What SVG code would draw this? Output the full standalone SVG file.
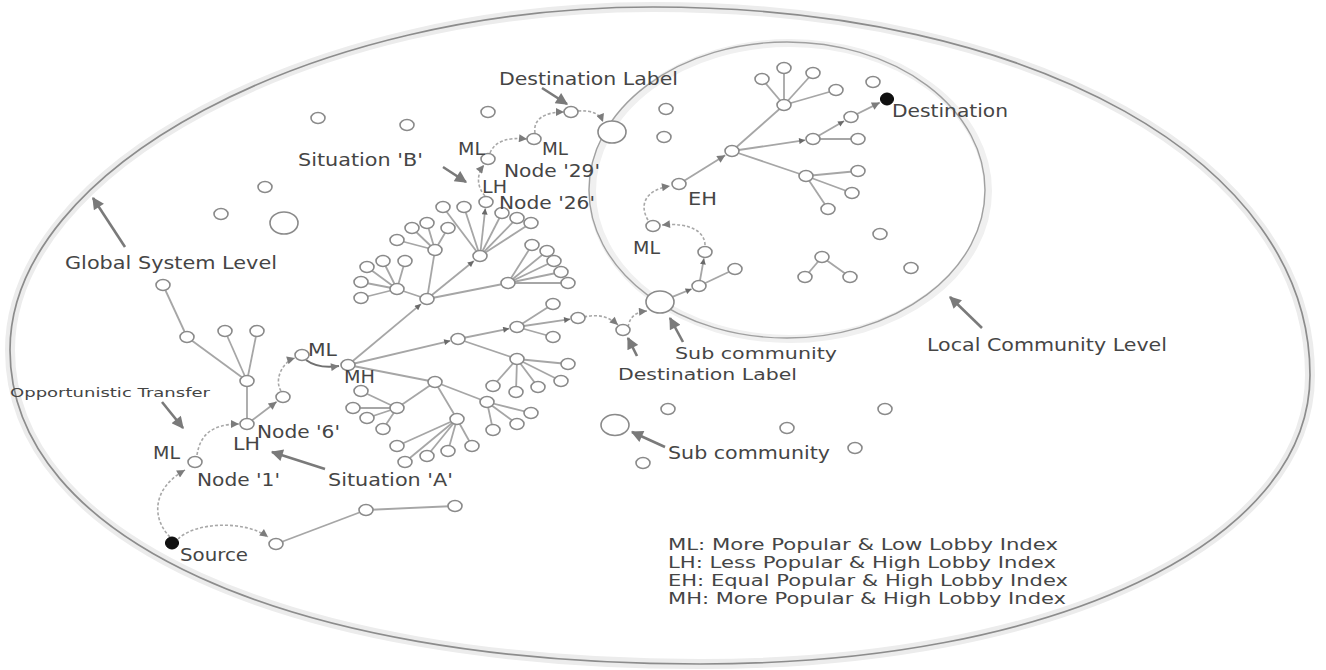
<svg xmlns="http://www.w3.org/2000/svg" width="1326" height="670" viewBox="0 0 1326 670">
<defs>
<style>
.e{stroke:#a6a6a6;stroke-width:1.8;fill:none}
.ea{stroke:#a6a6a6;stroke-width:1.8;fill:none;marker-end:url(#as)}
.eb{stroke:#a6a6a6;stroke-width:1.8;fill:none;marker-end:url(#am)}
.d{stroke:#a8a8a8;stroke-width:1.6;fill:none;stroke-dasharray:3 2;marker-end:url(#am)}
.n{fill:#fff;stroke:#8a8a8a;stroke-width:1.6}
.bk{fill:#111;stroke:#000;stroke-width:1}
.t{font-family:"DejaVu Sans",Verdana,sans-serif;font-size:17px;fill:#454545}
.sm{font-size:12.5px}
.lg{font-size:16px}
.la{stroke:#7a7a7a;stroke-width:2.6;fill:none;marker-end:url(#al)}
.sh{fill:none;stroke:#ececec;stroke-width:10}
.bd{fill:none;stroke:#8c8c8c;stroke-width:1.7}
.bd2{fill:none;stroke:#a0a0a0;stroke-width:1.4}
</style>
<marker id="as" markerUnits="userSpaceOnUse" viewBox="0 0 10 10" refX="10" refY="5" markerWidth="7" markerHeight="6" orient="auto"><path d="M0,0L10,5L0,10z" fill="#6a6a6a"/></marker>
<marker id="am" markerUnits="userSpaceOnUse" viewBox="0 0 10 10" refX="10" refY="5" markerWidth="11" markerHeight="8" orient="auto"><path d="M0,0L10,5L0,10z" fill="#7c7c7c"/></marker>
<marker id="al" markerUnits="userSpaceOnUse" viewBox="0 0 10 10" refX="9" refY="5" markerWidth="14" markerHeight="12" orient="auto"><path d="M0,0L10,5L0,10z" fill="#7a7a7a"/></marker>
</defs>
<rect width="1326" height="670" fill="#fff"/>

<g id="boundaries">
<path class="sh" d="M 653 7 C 1034 7 1310 162 1310 375 C 1310 543 1054 664 700 664 C 286 664 10 538 10 350 C 10 168 312 7 653 7 Z"/>
<path class="bd" d="M 653 7 C 1034 7 1310 162 1310 375 C 1310 543 1054 664 700 664 C 286 664 10 538 10 350 C 10 168 312 7 653 7 Z"/>
<ellipse cx="790" cy="191" rx="198" ry="148" fill="none" stroke="#f0f0f0" stroke-width="8"/>
<ellipse class="bd2" cx="787" cy="190" rx="198" ry="148"/>
</g>

<g id="connectors">
<!-- left tree -->
<line class="e" x1="163" y1="285" x2="187" y2="337"/>
<line class="e" x1="187" y1="337" x2="247" y2="381"/>
<line class="e" x1="225" y1="331" x2="247" y2="381"/>
<line class="e" x1="257" y1="331" x2="247" y2="381"/>
<line class="e" x1="247" y1="381" x2="247" y2="424"/>
<line class="eb" x1="247" y1="424" x2="276.6" y2="401.8"/>
<line class="e" x1="276" y1="544" x2="366" y2="510"/>
<line class="e" x1="366" y1="510" x2="455" y2="506"/>
<!-- main tree -->
<line class="ea" x1="348" y1="365" x2="420.9" y2="304.1"/>
<line class="e" x1="427" y1="299" x2="397" y2="289"/>
<line class="e" x1="397" y1="289" x2="367" y2="267"/>
<line class="e" x1="397" y1="289" x2="383" y2="261"/>
<line class="e" x1="397" y1="289" x2="405" y2="261"/>
<line class="e" x1="397" y1="289" x2="361" y2="282"/>
<line class="e" x1="397" y1="289" x2="361" y2="298"/>
<line class="e" x1="427" y1="299" x2="435" y2="250"/>
<line class="e" x1="435" y1="250" x2="397" y2="240"/>
<line class="e" x1="435" y1="250" x2="412" y2="228"/>
<line class="e" x1="435" y1="250" x2="427" y2="223"/>
<line class="e" x1="435" y1="250" x2="448" y2="228"/>
<line class="ea" x1="427" y1="299" x2="473.8" y2="261"/>
<line class="e" x1="480" y1="256" x2="443" y2="207"/>
<line class="e" x1="480" y1="256" x2="464" y2="207"/>
<line class="ea" x1="480" y1="256" x2="485.3" y2="208.5"/>
<line class="e" x1="480" y1="256" x2="502" y2="213"/>
<line class="e" x1="480" y1="256" x2="517" y2="218"/>
<line class="e" x1="480" y1="256" x2="531" y2="223"/>
<line class="e" x1="427" y1="299" x2="508" y2="283"/>
<line class="e" x1="508" y1="283" x2="532" y2="245"/>
<line class="e" x1="508" y1="283" x2="547" y2="251"/>
<line class="e" x1="508" y1="283" x2="554" y2="261"/>
<line class="e" x1="508" y1="283" x2="561" y2="272"/>
<line class="e" x1="508" y1="283" x2="568" y2="283"/>
<line class="ea" x1="348" y1="365" x2="450.2" y2="340.8"/>
<line class="ea" x1="458" y1="339" x2="509.2" y2="328.6"/>
<line class="e" x1="517" y1="327" x2="553" y2="304"/>
<line class="e" x1="517" y1="327" x2="553" y2="337"/>
<line class="ea" x1="517" y1="327" x2="570.1" y2="319.2"/>
<line class="e" x1="458" y1="339" x2="517" y2="359"/>
<line class="e" x1="517" y1="359" x2="568" y2="364"/>
<line class="e" x1="517" y1="359" x2="561" y2="381"/>
<line class="e" x1="517" y1="359" x2="538" y2="387"/>
<line class="e" x1="517" y1="359" x2="516" y2="392"/>
<line class="e" x1="517" y1="359" x2="493" y2="386"/>
<line class="e" x1="348" y1="365" x2="435" y2="382"/>
<line class="e" x1="435" y1="382" x2="397" y2="408"/>
<line class="e" x1="397" y1="408" x2="361" y2="391"/>
<line class="e" x1="397" y1="408" x2="353" y2="408"/>
<line class="e" x1="397" y1="408" x2="367" y2="418"/>
<line class="e" x1="397" y1="408" x2="383" y2="429"/>
<line class="e" x1="435" y1="382" x2="457" y2="419"/>
<line class="e" x1="457" y1="419" x2="397" y2="446"/>
<line class="e" x1="457" y1="419" x2="405" y2="462"/>
<line class="e" x1="457" y1="419" x2="427" y2="456"/>
<line class="e" x1="457" y1="419" x2="448" y2="451"/>
<line class="e" x1="457" y1="419" x2="472" y2="446"/>
<line class="e" x1="435" y1="382" x2="487" y2="402"/>
<line class="e" x1="487" y1="402" x2="531" y2="413"/>
<line class="e" x1="487" y1="402" x2="517" y2="424"/>
<line class="e" x1="487" y1="402" x2="493" y2="430"/>
<!-- local community -->
<line class="ea" x1="673" y1="296.7" x2="691.6" y2="289"/>
<line class="ea" x1="699" y1="286" x2="703.9" y2="258.4"/>
<line class="e" x1="699" y1="286" x2="735" y2="269"/>
<line class="eb" x1="679" y1="184" x2="725.2" y2="155.2"/>
<line class="e" x1="732" y1="151" x2="784" y2="105"/>
<line class="e" x1="784" y1="105" x2="762" y2="79"/>
<line class="e" x1="784" y1="105" x2="784" y2="68"/>
<line class="e" x1="784" y1="105" x2="813" y2="73"/>
<line class="e" x1="784" y1="105" x2="836" y2="90"/>
<line class="ea" x1="732" y1="151" x2="805.1" y2="140.2"/>
<line class="e" x1="813" y1="139" x2="858" y2="139"/>
<line class="ea" x1="813" y1="139" x2="844.1" y2="121"/>
<line class="eb" x1="851" y1="117" x2="879.8" y2="102.6"/>
<line class="e" x1="732" y1="151" x2="806" y2="176"/>
<line class="e" x1="806" y1="176" x2="858" y2="171"/>
<line class="e" x1="806" y1="176" x2="852" y2="193"/>
<line class="e" x1="806" y1="176" x2="828" y2="209"/>
<line class="e" x1="822" y1="257" x2="805" y2="277"/>
<line class="e" x1="822" y1="257" x2="850" y2="277"/>
<!-- dashed routing hops -->
<path class="d" d="M 170 537 C 153 520 150 490 185 470"/>
<path class="d" d="M 178 539 C 195 522 245 520 268 537"/>
<path class="d" d="M 197 455 C 200 435 212 424 239 424"/>
<path class="d" d="M 281 391 C 274 380 282 362 295 358"/>
<path d="M 306 360 Q 318 369 339 366" fill="none" stroke="#707070" stroke-width="2" marker-end="url(#am)"/>
<path class="d" d="M 485 196 C 477 187 476 175 484 165"/>
<path class="d" d="M 490 153 C 495 141 508 137 527 139"/>
<path class="d" d="M 535 133 C 533 120 543 112 564 112"/>
<path class="d" d="M 578 111 C 592 110 600 114 603 122"/>
<path class="d" d="M 584 317 C 598 314 608 316 618 325"/>
<path class="d" d="M 628 327 C 630 317 635 312 647 311"/>
<path class="d" d="M 705 245 C 705 232 690 222 662 225"/>
<path class="d" d="M 648 220 C 639 205 645 190 670 186"/>
<!-- label pointers -->
<line class="la" x1="542" y1="88" x2="567" y2="104"/>
<line class="la" x1="443" y1="167" x2="466" y2="182"/>
<line class="la" x1="125" y1="247" x2="93" y2="198"/>
<line class="la" x1="982" y1="328" x2="950" y2="297"/>
<line class="la" x1="683" y1="342" x2="670" y2="318"/>
<line class="la" x1="637" y1="356" x2="628" y2="338"/>
<line class="la" x1="665" y1="447" x2="632" y2="432"/>
<line class="la" x1="162" y1="402" x2="183" y2="428"/>
<line class="la" x1="325" y1="469" x2="272" y2="452"/>
</g>

<g id="nodes">
<g id="n-source"><ellipse class="bk" cx="172" cy="543" rx="6.5" ry="6"/></g>
<g id="n-1"><ellipse class="n" cx="195" cy="462" rx="7" ry="5.5"/></g>
<g id="n-6"><ellipse class="n" cx="247" cy="424" rx="7" ry="5.5"/></g>
<g id="n-lt-hub"><ellipse class="n" cx="247" cy="381" rx="7" ry="5.5"/></g>
<g id="n-lt-a"><ellipse class="n" cx="187" cy="337" rx="7" ry="5.5"/></g>
<g id="n-lt-top"><ellipse class="n" cx="163" cy="285" rx="7" ry="5.5"/></g>
<g id="n-lt-b"><ellipse class="n" cx="225" cy="331" rx="7" ry="5.5"/></g>
<g id="n-lt-c"><ellipse class="n" cx="257" cy="331" rx="7" ry="5.5"/></g>
<g id="n-p1"><ellipse class="n" cx="283" cy="397" rx="7" ry="5.5"/></g>
<g id="n-ml"><ellipse class="n" cx="302" cy="355" rx="7" ry="5.5"/></g>
<g id="n-mh"><ellipse class="n" cx="348" cy="365" rx="7" ry="5.5"/></g>
<g id="n-s1"><ellipse class="n" cx="276" cy="544" rx="7" ry="5.5"/></g>
<g id="n-s2"><ellipse class="n" cx="366" cy="510" rx="7" ry="5.5"/></g>
<g id="n-s3"><ellipse class="n" cx="455" cy="506" rx="7" ry="5.5"/></g>

<g id="n-A"><ellipse class="n" cx="427" cy="299" rx="7" ry="5.5"/></g>
<g id="n-E"><ellipse class="n" cx="397" cy="289" rx="7" ry="5.5"/></g>
<g id="n-E1"><ellipse class="n" cx="367" cy="267" rx="7" ry="5.5"/></g>
<g id="n-E2"><ellipse class="n" cx="383" cy="261" rx="7" ry="5.5"/></g>
<g id="n-E3"><ellipse class="n" cx="405" cy="261" rx="7" ry="5.5"/></g>
<g id="n-E4"><ellipse class="n" cx="361" cy="282" rx="7" ry="5.5"/></g>
<g id="n-E5"><ellipse class="n" cx="361" cy="298" rx="7" ry="5.5"/></g>
<g id="n-B"><ellipse class="n" cx="435" cy="250" rx="7" ry="5.5"/></g>
<g id="n-B1"><ellipse class="n" cx="397" cy="240" rx="7" ry="5.5"/></g>
<g id="n-B2"><ellipse class="n" cx="412" cy="228" rx="7" ry="5.5"/></g>
<g id="n-B3"><ellipse class="n" cx="427" cy="223" rx="7" ry="5.5"/></g>
<g id="n-B4"><ellipse class="n" cx="448" cy="228" rx="7" ry="5.5"/></g>
<g id="n-C"><ellipse class="n" cx="480" cy="256" rx="7" ry="5.5"/></g>
<g id="n-C1"><ellipse class="n" cx="443" cy="207" rx="7" ry="5.5"/></g>
<g id="n-C2"><ellipse class="n" cx="464" cy="207" rx="7" ry="5.5"/></g>
<g id="n-26"><ellipse class="n" cx="486" cy="202" rx="7" ry="5.5"/></g>
<g id="n-C4"><ellipse class="n" cx="502" cy="213" rx="7" ry="5.5"/></g>
<g id="n-C5"><ellipse class="n" cx="517" cy="218" rx="7" ry="5.5"/></g>
<g id="n-C6"><ellipse class="n" cx="531" cy="223" rx="7" ry="5.5"/></g>
<g id="n-D"><ellipse class="n" cx="508" cy="283" rx="7" ry="5.5"/></g>
<g id="n-D1"><ellipse class="n" cx="532" cy="245" rx="7" ry="5.5"/></g>
<g id="n-D2"><ellipse class="n" cx="547" cy="251" rx="7" ry="5.5"/></g>
<g id="n-D3"><ellipse class="n" cx="554" cy="261" rx="7" ry="5.5"/></g>
<g id="n-D4"><ellipse class="n" cx="561" cy="272" rx="7" ry="5.5"/></g>
<g id="n-D5"><ellipse class="n" cx="568" cy="283" rx="7" ry="5.5"/></g>
<g id="n-F"><ellipse class="n" cx="458" cy="339" rx="7" ry="5.5"/></g>
<g id="n-G"><ellipse class="n" cx="517" cy="327" rx="7" ry="5.5"/></g>
<g id="n-G1"><ellipse class="n" cx="553" cy="304" rx="7" ry="5.5"/></g>
<g id="n-G2"><ellipse class="n" cx="553" cy="337" rx="7" ry="5.5"/></g>
<g id="n-G3"><ellipse class="n" cx="578" cy="318" rx="7" ry="5.5"/></g>
<g id="n-H"><ellipse class="n" cx="517" cy="359" rx="7" ry="5.5"/></g>
<g id="n-H1"><ellipse class="n" cx="568" cy="364" rx="7" ry="5.5"/></g>
<g id="n-H2"><ellipse class="n" cx="561" cy="381" rx="7" ry="5.5"/></g>
<g id="n-H3"><ellipse class="n" cx="538" cy="387" rx="7" ry="5.5"/></g>
<g id="n-H4"><ellipse class="n" cx="516" cy="392" rx="7" ry="5.5"/></g>
<g id="n-H5"><ellipse class="n" cx="493" cy="386" rx="7" ry="5.5"/></g>
<g id="n-I"><ellipse class="n" cx="435" cy="382" rx="7" ry="5.5"/></g>
<g id="n-J"><ellipse class="n" cx="397" cy="408" rx="7" ry="5.5"/></g>
<g id="n-J1"><ellipse class="n" cx="361" cy="391" rx="7" ry="5.5"/></g>
<g id="n-J2"><ellipse class="n" cx="353" cy="408" rx="7" ry="5.5"/></g>
<g id="n-J3"><ellipse class="n" cx="367" cy="418" rx="7" ry="5.5"/></g>
<g id="n-J4"><ellipse class="n" cx="383" cy="429" rx="7" ry="5.5"/></g>
<g id="n-K"><ellipse class="n" cx="457" cy="419" rx="7" ry="5.5"/></g>
<g id="n-K1"><ellipse class="n" cx="397" cy="446" rx="7" ry="5.5"/></g>
<g id="n-K2"><ellipse class="n" cx="405" cy="462" rx="7" ry="5.5"/></g>
<g id="n-K3"><ellipse class="n" cx="427" cy="456" rx="7" ry="5.5"/></g>
<g id="n-K4"><ellipse class="n" cx="448" cy="451" rx="7" ry="5.5"/></g>
<g id="n-K5"><ellipse class="n" cx="472" cy="446" rx="7" ry="5.5"/></g>
<g id="n-L"><ellipse class="n" cx="487" cy="402" rx="7" ry="5.5"/></g>
<g id="n-L1"><ellipse class="n" cx="531" cy="413" rx="7" ry="5.5"/></g>
<g id="n-L2"><ellipse class="n" cx="517" cy="424" rx="7" ry="5.5"/></g>
<g id="n-L3"><ellipse class="n" cx="493" cy="430" rx="7" ry="5.5"/></g>

<g id="n-29"><ellipse class="n" cx="488" cy="159" rx="7" ry="5.5"/></g>
<g id="n-p2"><ellipse class="n" cx="534" cy="139" rx="7" ry="5.5"/></g>
<g id="n-destlabel"><ellipse class="n" cx="571" cy="112" rx="7" ry="5.5"/></g>
<g id="n-sc1"><ellipse class="n" cx="612" cy="132" rx="14" ry="11"/></g>
<g id="n-i1"><ellipse class="n" cx="318" cy="118" rx="7" ry="5.5"/></g>
<g id="n-i2"><ellipse class="n" cx="407" cy="125" rx="7" ry="5.5"/></g>
<g id="n-i3"><ellipse class="n" cx="488" cy="112" rx="7" ry="5.5"/></g>
<g id="n-i4"><ellipse class="n" cx="265" cy="187" rx="7" ry="5.5"/></g>
<g id="n-i5"><ellipse class="n" cx="221" cy="214" rx="7" ry="5.5"/></g>
<g id="n-sc0"><ellipse class="n" cx="284" cy="223" rx="14" ry="11"/></g>
<g id="n-i6"><ellipse class="n" cx="666" cy="109" rx="7" ry="5.5"/></g>
<g id="n-i7"><ellipse class="n" cx="664" cy="137" rx="7" ry="5.5"/></g>

<g id="n-q1"><ellipse class="n" cx="623" cy="330" rx="7" ry="5.5"/></g>
<g id="n-sc2"><ellipse class="n" cx="660" cy="302" rx="14" ry="11"/></g>
<g id="n-l1"><ellipse class="n" cx="699" cy="286" rx="7" ry="5.5"/></g>
<g id="n-l2"><ellipse class="n" cx="735" cy="269" rx="7" ry="5.5"/></g>
<g id="n-l3"><ellipse class="n" cx="705" cy="252" rx="7" ry="5.5"/></g>
<g id="n-l4"><ellipse class="n" cx="653" cy="226" rx="7" ry="5.5"/></g>
<g id="n-l5"><ellipse class="n" cx="679" cy="184" rx="7" ry="5.5"/></g>
<g id="n-lhub"><ellipse class="n" cx="732" cy="151" rx="7" ry="5.5"/></g>
<g id="n-l6"><ellipse class="n" cx="784" cy="105" rx="7" ry="5.5"/></g>
<g id="n-l7"><ellipse class="n" cx="762" cy="79" rx="7" ry="5.5"/></g>
<g id="n-l8"><ellipse class="n" cx="784" cy="68" rx="7" ry="5.5"/></g>
<g id="n-l9"><ellipse class="n" cx="813" cy="73" rx="7" ry="5.5"/></g>
<g id="n-l10"><ellipse class="n" cx="836" cy="90" rx="7" ry="5.5"/></g>
<g id="n-l11"><ellipse class="n" cx="813" cy="139" rx="7" ry="5.5"/></g>
<g id="n-l12"><ellipse class="n" cx="858" cy="139" rx="7" ry="5.5"/></g>
<g id="n-l13"><ellipse class="n" cx="851" cy="117" rx="7" ry="5.5"/></g>
<g id="n-dest"><ellipse class="bk" cx="887" cy="99" rx="6.5" ry="6"/></g>
<g id="n-l14"><ellipse class="n" cx="806" cy="176" rx="7" ry="5.5"/></g>
<g id="n-l15"><ellipse class="n" cx="858" cy="171" rx="7" ry="5.5"/></g>
<g id="n-l16"><ellipse class="n" cx="852" cy="193" rx="7" ry="5.5"/></g>
<g id="n-l17"><ellipse class="n" cx="828" cy="209" rx="7" ry="5.5"/></g>
<g id="n-l18"><ellipse class="n" cx="873" cy="82" rx="7" ry="5.5"/></g>
<g id="n-l19"><ellipse class="n" cx="880" cy="234" rx="7" ry="5.5"/></g>
<g id="n-l20"><ellipse class="n" cx="911" cy="268" rx="7" ry="5.5"/></g>
<g id="n-l21"><ellipse class="n" cx="822" cy="257" rx="7" ry="5.5"/></g>
<g id="n-l22"><ellipse class="n" cx="805" cy="277" rx="7" ry="5.5"/></g>
<g id="n-l23"><ellipse class="n" cx="850" cy="277" rx="7" ry="5.5"/></g>

<g id="n-sc3"><ellipse class="n" cx="615" cy="425" rx="14" ry="10.5"/></g>
<g id="n-o1"><ellipse class="n" cx="668" cy="409" rx="7" ry="5.5"/></g>
<g id="n-o2"><ellipse class="n" cx="787" cy="428" rx="7" ry="5.5"/></g>
<g id="n-o3"><ellipse class="n" cx="885" cy="409" rx="7" ry="5.5"/></g>
<g id="n-o4"><ellipse class="n" cx="855" cy="448" rx="7" ry="5.5"/></g>
<g id="n-o5"><ellipse class="n" cx="643" cy="463" rx="7" ry="5.5"/></g>
</g>

<g id="labels" class="t">
<text x="499" y="85" textLength="179" lengthAdjust="spacingAndGlyphs">Destination Label</text>
<text x="298" y="166" textLength="125" lengthAdjust="spacingAndGlyphs">Situation 'B'</text>
<text x="458" y="155" textLength="27" lengthAdjust="spacingAndGlyphs">ML</text>
<text x="542" y="155" textLength="26" lengthAdjust="spacingAndGlyphs">ML</text>
<text x="504" y="177" textLength="96" lengthAdjust="spacingAndGlyphs">Node '29'</text>
<text x="482" y="193" textLength="25" lengthAdjust="spacingAndGlyphs">LH</text>
<text x="499" y="209" textLength="96" lengthAdjust="spacingAndGlyphs">Node '26'</text>
<text x="892" y="117" textLength="116" lengthAdjust="spacingAndGlyphs">Destination</text>
<text x="688" y="205" textLength="29" lengthAdjust="spacingAndGlyphs">EH</text>
<text x="633" y="254" textLength="27" lengthAdjust="spacingAndGlyphs">ML</text>
<text x="65" y="269" textLength="212" lengthAdjust="spacingAndGlyphs">Global System Level</text>
<text x="927" y="351" textLength="240" lengthAdjust="spacingAndGlyphs">Local Community Level</text>
<text x="675" y="359" font-size="16.5" textLength="162" lengthAdjust="spacingAndGlyphs">Sub community</text>
<text x="618" y="380" font-size="16.5" textLength="179" lengthAdjust="spacingAndGlyphs">Destination Label</text>
<text x="308" y="356" textLength="29" lengthAdjust="spacingAndGlyphs">ML</text>
<text x="344" y="383" textLength="31" lengthAdjust="spacingAndGlyphs">MH</text>
<text class="sm" x="10" y="397" textLength="200" lengthAdjust="spacingAndGlyphs">Opportunistic Transfer</text>
<text x="257" y="438" textLength="83" lengthAdjust="spacingAndGlyphs">Node '6'</text>
<text x="233" y="450" textLength="27" lengthAdjust="spacingAndGlyphs">LH</text>
<text x="153" y="459" textLength="27" lengthAdjust="spacingAndGlyphs">ML</text>
<text x="668" y="459" textLength="162" lengthAdjust="spacingAndGlyphs">Sub community</text>
<text x="197" y="486" textLength="83" lengthAdjust="spacingAndGlyphs">Node '1'</text>
<text x="328" y="486" textLength="125" lengthAdjust="spacingAndGlyphs">Situation 'A'</text>
<text x="180" y="561" textLength="68" lengthAdjust="spacingAndGlyphs">Source</text>
</g>

<g id="legend" class="t lg">
<text x="668" y="550" textLength="390" lengthAdjust="spacingAndGlyphs">ML: More Popular &amp; Low Lobby Index</text>
<text x="668" y="568" textLength="388" lengthAdjust="spacingAndGlyphs">LH: Less Popular &amp; High Lobby Index</text>
<text x="668" y="586" textLength="400" lengthAdjust="spacingAndGlyphs">EH: Equal Popular &amp; High Lobby Index</text>
<text x="668" y="604" textLength="398" lengthAdjust="spacingAndGlyphs">MH: More Popular &amp; High Lobby Index</text>
</g>
</svg>
